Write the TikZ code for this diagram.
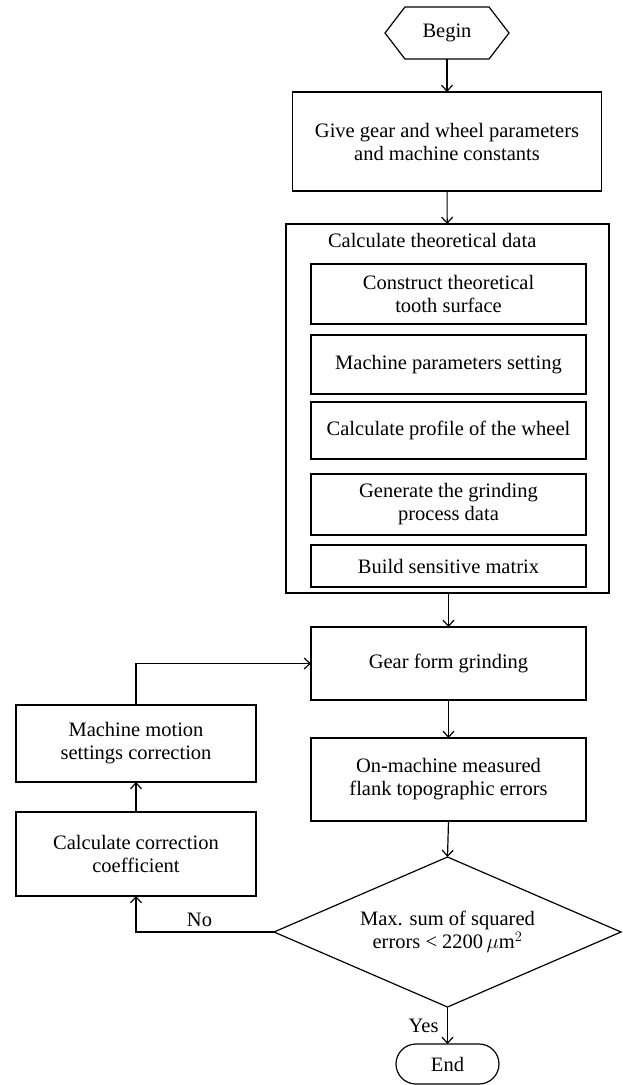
\documentclass[tikz,border=0pt]{standalone}
\usepackage{fontspec}
\setmainfont{Liberation Serif}
\usetikzlibrary{shapes.geometric,shapes.symbols,arrows.meta}

\begin{document}
\begin{tikzpicture}[x=1pt,y=-1pt,line width=1.2pt,>={Straight Barb[length=6pt,width=11pt]},
    every node/.style={font=\fontsize{20.5}{23}\selectfont,inner sep=0pt,outer sep=0pt},
    stepbox/.style={draw,align=center,minimum width=275pt},
    sidebox/.style={draw,align=center,minimum width=240pt}]
  \useasboundingbox (0,0) rectangle (623,1085);
  % start and input
  \node[draw,signal,signal to=west and east,signal pointer angle=105,
    minimum width=124pt,minimum height=52pt] (begin) at (447,33) {Begin};
  \node[draw,align=center,minimum width=309pt,minimum height=99pt] (give) at (447,141.5)
    {Give gear and wheel parameters\\and machine constants};
  % theoretical data block
  \node[draw,minimum width=323pt,minimum height=369pt] (theory) at (447.5,408.5) {};
  \node[anchor=west] (title) at (328,240) {Calculate theoretical data};
  \node[stepbox,minimum height=60pt] (surf) at (448.5,294) {Construct theoretical\\tooth surface};
  \node[stepbox,minimum height=59pt] (setting) at (448.5,364.5) {Machine parameters setting};
  \node[stepbox,minimum height=57pt] (wheel) at (448.5,430.5) {Calculate profile of the wheel};
  \node[stepbox,minimum height=61pt] (process) at (448.5,504.5) {Generate the grinding\\process data};
  \node[stepbox,minimum height=42pt] (matrix) at (448.5,566) {Build sensitive matrix};
  % grinding and measuring
  \node[stepbox,minimum height=73pt] (grind) at (448.5,663.5) {Gear form grinding};
  \node[stepbox,minimum height=83pt] (measure) at (448.5,779.5) {On-machine measured\\flank topographic errors};
  \node[draw,diamond,aspect=2.3,minimum width=347pt,minimum height=150pt,align=center] (check) at (447.5,932)
    {Max. sum of squared\\errors < 2200\,$\mu$m$^2$};
  \node[draw,rounded corners=20pt,minimum width=103pt,minimum height=40pt] (end) at (447.5,1064) {End};
  % correction loop
  \node[sidebox,minimum height=77pt] (motion) at (136,743.5) {Machine motion\\settings correction};
  \node[sidebox,minimum height=84pt] (coef) at (136,854) {Calculate correction\\coefficient};

  \draw[->] (begin) -- (give);
  \draw[->] (give) -- (theory);
  \draw[->] (theory.south -| grind.north) -- (grind);
  \draw[->] (grind) -- (measure);
  \draw[->] (measure.south) -- (check.north);
  \draw[->] (check) -- node[left=9pt] {Yes} (end);
  \draw[->] (check.west) -| node[pos=0.27,above=5pt] {No} (coef.south);
  \draw[->] (coef) -- (motion);
  \draw[->] (motion.north) |- (grind.west);
\end{tikzpicture}
\end{document}
